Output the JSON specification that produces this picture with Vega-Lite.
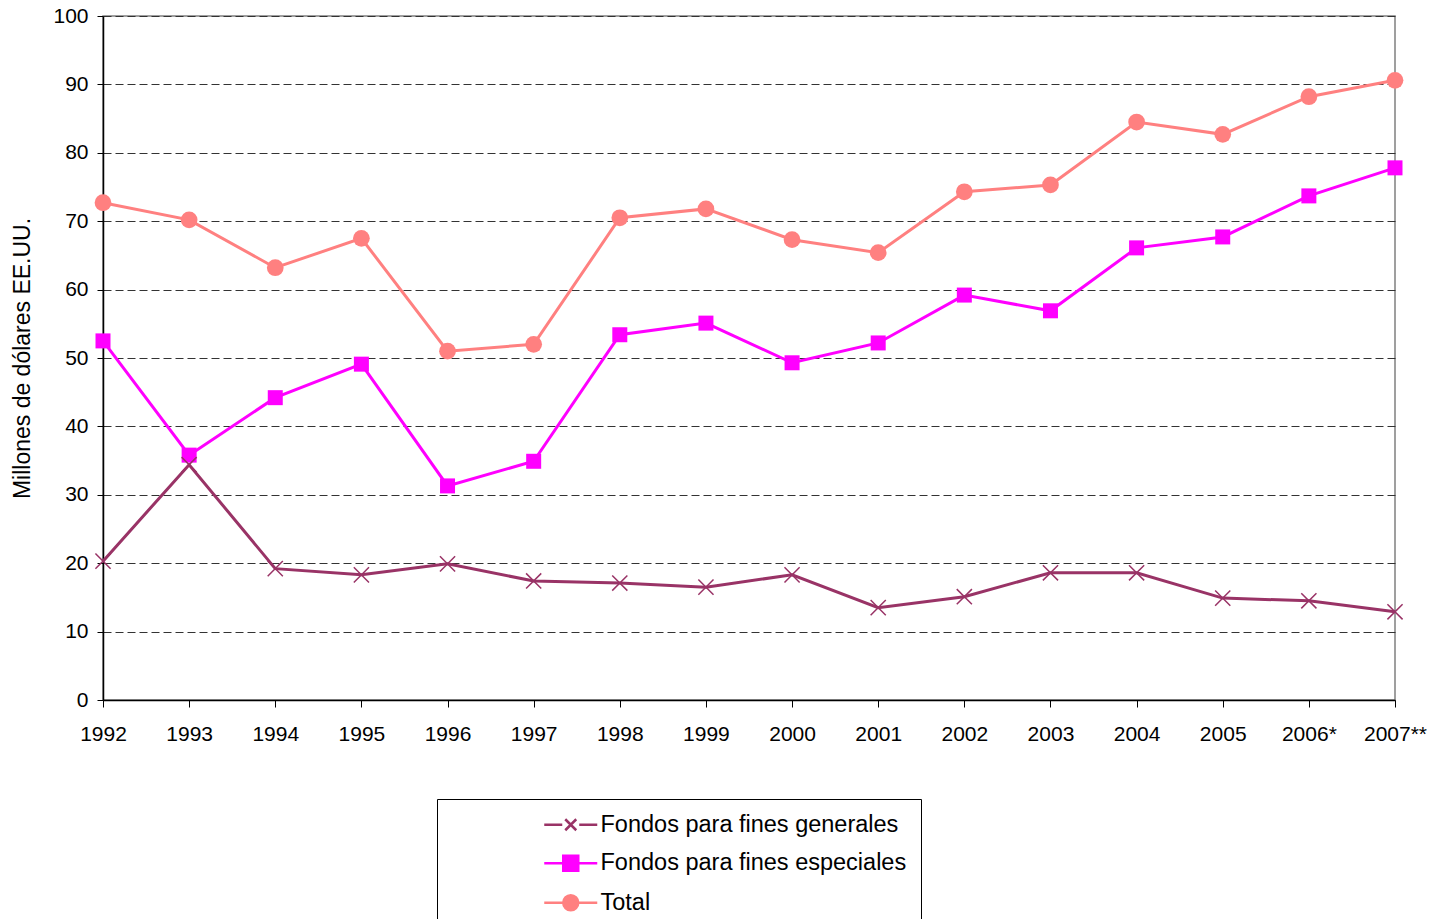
{
  "$schema": "https://vega.github.io/schema/vega-lite/v6.json",
  "width": 1292,
  "height": 684,
  "autosize": "none",
  "padding": {"left": 103, "top": 16, "right": 41, "bottom": 219},
  "background": "white",
  "config": {
    "view": {"stroke": "#808080", "strokeWidth": 1.5},
    "font": "Liberation Sans",
    "axis": {"labelFont": "Liberation Sans", "labelFontSize": 21, "labelColor": "#000", "titleFont": "Liberation Sans", "titleFontSize": 23, "titleFontWeight": "normal", "titleColor": "#000", "domainColor": "#000", "tickColor": "#000", "domainWidth": 1.5}
  },
  "data": {"values": [
    {"year": "1992", "serie": "Fondos para fines generales", "value": 20.3},
    {"year": "1993", "serie": "Fondos para fines generales", "value": 34.4},
    {"year": "1994", "serie": "Fondos para fines generales", "value": 19.2},
    {"year": "1995", "serie": "Fondos para fines generales", "value": 18.3},
    {"year": "1996", "serie": "Fondos para fines generales", "value": 19.9},
    {"year": "1997", "serie": "Fondos para fines generales", "value": 17.4},
    {"year": "1998", "serie": "Fondos para fines generales", "value": 17.1},
    {"year": "1999", "serie": "Fondos para fines generales", "value": 16.5},
    {"year": "2000", "serie": "Fondos para fines generales", "value": 18.3},
    {"year": "2001", "serie": "Fondos para fines generales", "value": 13.5},
    {"year": "2002", "serie": "Fondos para fines generales", "value": 15.1},
    {"year": "2003", "serie": "Fondos para fines generales", "value": 18.6},
    {"year": "2004", "serie": "Fondos para fines generales", "value": 18.6},
    {"year": "2005", "serie": "Fondos para fines generales", "value": 14.9},
    {"year": "2006*", "serie": "Fondos para fines generales", "value": 14.5},
    {"year": "2007**", "serie": "Fondos para fines generales", "value": 12.9},
    {"year": "1992", "serie": "Fondos para fines especiales", "value": 52.5},
    {"year": "1993", "serie": "Fondos para fines especiales", "value": 35.8},
    {"year": "1994", "serie": "Fondos para fines especiales", "value": 44.2},
    {"year": "1995", "serie": "Fondos para fines especiales", "value": 49.1},
    {"year": "1996", "serie": "Fondos para fines especiales", "value": 31.3},
    {"year": "1997", "serie": "Fondos para fines especiales", "value": 34.9},
    {"year": "1998", "serie": "Fondos para fines especiales", "value": 53.4},
    {"year": "1999", "serie": "Fondos para fines especiales", "value": 55.1},
    {"year": "2000", "serie": "Fondos para fines especiales", "value": 49.3},
    {"year": "2001", "serie": "Fondos para fines especiales", "value": 52.2},
    {"year": "2002", "serie": "Fondos para fines especiales", "value": 59.2},
    {"year": "2003", "serie": "Fondos para fines especiales", "value": 56.9},
    {"year": "2004", "serie": "Fondos para fines especiales", "value": 66.1},
    {"year": "2005", "serie": "Fondos para fines especiales", "value": 67.7},
    {"year": "2006*", "serie": "Fondos para fines especiales", "value": 73.7},
    {"year": "2007**", "serie": "Fondos para fines especiales", "value": 77.8},
    {"year": "1992", "serie": "Total", "value": 72.7},
    {"year": "1993", "serie": "Total", "value": 70.2},
    {"year": "1994", "serie": "Total", "value": 63.2},
    {"year": "1995", "serie": "Total", "value": 67.5},
    {"year": "1996", "serie": "Total", "value": 51.0},
    {"year": "1997", "serie": "Total", "value": 52.0},
    {"year": "1998", "serie": "Total", "value": 70.5},
    {"year": "1999", "serie": "Total", "value": 71.8},
    {"year": "2000", "serie": "Total", "value": 67.3},
    {"year": "2001", "serie": "Total", "value": 65.4},
    {"year": "2002", "serie": "Total", "value": 74.3},
    {"year": "2003", "serie": "Total", "value": 75.3},
    {"year": "2004", "serie": "Total", "value": 84.5},
    {"year": "2005", "serie": "Total", "value": 82.7},
    {"year": "2006*", "serie": "Total", "value": 88.2},
    {"year": "2007**", "serie": "Total", "value": 90.6}
  ]},
  "encoding": {
    "x": {"field": "year", "type": "ordinal", "sort": null,
      "scale": {"type": "point", "padding": 0},
      "axis": {"title": null, "labelAngle": 0, "tickSize": 7, "labelPadding": 16, "grid": false}},
    "y": {"field": "value", "type": "quantitative",
      "scale": {"domain": [0, 100], "nice": false},
      "axis": {"title": "Millones de dólares EE.UU.", "values": [0, 10, 20, 30, 40, 50, 60, 70, 80, 90, 100], "grid": true, "gridDash": [8, 4], "gridColor": "#333", "gridWidth": 1, "tickSize": 6, "labelPadding": 9, "titlePadding": 18}}
  },
  "layer": [
    {
      "mark": {"type": "line", "strokeWidth": 3},
      "encoding": {
        "color": {"field": "serie", "type": "nominal",
          "scale": {"domain": ["Fondos para fines generales", "Fondos para fines especiales", "Total"], "range": ["#993366", "#FF00FF", "#FF8080"]},
          "legend": {
            "title": "\u00a0", "titleOrient": "left", "titlePadding": 108,
            "orient": "none", "legendX": 334, "legendY": 783,
            "strokeColor": "#000", "padding": 14,
            "labelFont": "Liberation Sans", "labelFontSize": 23.5, "labelColor": "#000", "labelOffset": 18, "labelLimit": 500,
            "symbolSize": 400, "symbolStrokeWidth": 2.5, "rowPadding": 13.5,
            "encode": {"symbols": {"update": {
              "shape": {"signal": "datum.value === 'Total' ? 'M-2.65,0H2.65M0.75,0A0.75,0.75 0 1,1 -0.75,0A0.75,0.75 0 1,1 0.75,0Z' : (datum.value === 'Fondos para fines especiales' ? 'M-2.65,0H2.65M-0.75,-0.75H0.75V0.75H-0.75Z' : 'M-2.65,0H-0.85M0.85,0H2.65M-0.55,-0.55L0.55,0.55M-0.55,0.55L0.55,-0.55')"},
              "fill": {"signal": "datum.value === 'Total' ? '#FF8080' : (datum.value === 'Fondos para fines especiales' ? '#FF00FF' : 'transparent')"}
            }}}
          }}
      }
    },
    {
      "transform": [{"filter": "datum.serie === 'Total'"}],
      "mark": {"type": "point", "shape": "circle", "filled": true, "size": 280, "color": "#FF8080", "opacity": 1}
    },
    {
      "transform": [{"filter": "datum.serie === 'Fondos para fines especiales'"}],
      "mark": {"type": "point", "shape": "square", "filled": true, "size": 225, "color": "#FF00FF", "opacity": 1}
    },
    {
      "transform": [{"filter": "datum.serie === 'Fondos para fines generales'"}],
      "mark": {"type": "point", "shape": "M-1,-1L1,1M-1,1L1,-1", "filled": false, "size": 230, "stroke": "#993366", "strokeWidth": 1.5, "opacity": 1}
    }
  ]
}
